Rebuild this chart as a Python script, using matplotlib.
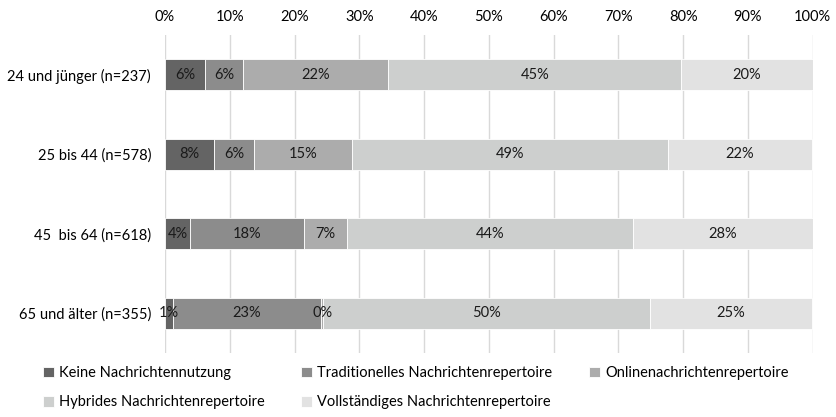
import matplotlib
matplotlib.use("Agg")
import matplotlib.pyplot as plt
import numpy as np

plt.rcParams['font.family'] = ['Lato', 'DejaVu Sans']

categories = ["24 und jünger (n=237)", "25 bis 44 (n=578)", "45  bis 64 (n=618)", "65 und älter (n=355)"]
series_names = ["Keine Nachrichtennutzung", "Traditionelles Nachrichtenrepertoire",
                "Onlinenachrichtenrepertoire", "Hybrides Nachrichtenrepertoire",
                "Vollständiges Nachrichtenrepertoire"]
keine = [6.2, 7.6, 3.9, 1.2]
traditionell = [5.9, 6.2, 17.6, 22.9]
online = [22.4, 15.0, 6.6, 0.35]
hybrid = [45.2, 48.8, 44.2, 50.4]
vollstaendig = [20.3, 22.3, 27.7, 25.1]
xticks = [0, 10, 20, 30, 40, 50, 60, 70, 80, 90, 100]
colors = ["#646464", "#8c8c8c", "#acacac", "#cdcfce", "#e2e2e2"]

series = [keine, traditionell, online, hybrid, vollstaendig]

fig = plt.figure(figsize=(8.36, 4.17), dpi=100)
ax = fig.add_axes([165/836, 1-353/417, (812.7-165)/836, (353-35)/417])

y = np.arange(len(categories))
left = np.zeros(len(categories))
handles = []
for name, vals, c in zip(series_names, series, colors):
    vals = np.array(vals)
    bars = ax.barh(y, vals, left=left, height=0.39, color=c, edgecolor='white',
                   linewidth=0.6, label=name, zorder=3)
    handles.append(bars)
    for yi, l, v in zip(y, left, vals):
        ax.text(l + v/2, yi, f"{v:.0f}%", ha='center', va='center', fontsize=10.5,
                color='#1a1a1a', zorder=4)
    left += vals

ax.set_xlim(0, 100)
ax.set_ylim(3.5, -0.5)
ax.set_yticks(y)
ax.set_yticklabels(categories, fontsize=10.5)
ax.set_xticks(xticks)
ax.set_xticklabels([f"{t}%" for t in xticks], fontsize=10.5)
ax.xaxis.tick_top()
ax.tick_params(axis='both', length=0)
ax.tick_params(axis='x', pad=8)
ax.tick_params(axis='y', pad=10)
ax.grid(axis='x', color='#d9d9d9', linewidth=1, zorder=0)
for s in ax.spines.values():
    s.set_visible(False)

order = [0, 3, 1, 4, 2]
fig.legend([handles[i] for i in order], [series_names[i] for i in order],
           loc='upper left', bbox_to_anchor=(43/836, 1-366/417), ncol=3, frameon=False,
           fontsize=10.5, handlelength=0.75, handleheight=0.75, handletextpad=0.35,
           columnspacing=2.5, labelspacing=1.05, borderaxespad=0, borderpad=0)

fig.savefig("out.png", dpi=100)
